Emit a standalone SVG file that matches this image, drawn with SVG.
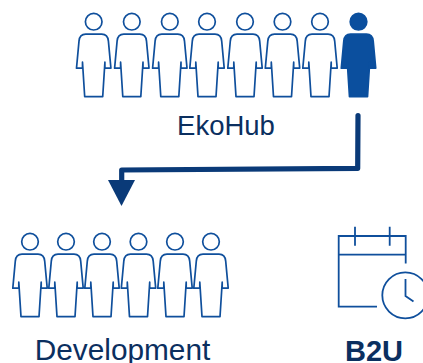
<svg xmlns="http://www.w3.org/2000/svg" width="423" height="363" viewBox="0 0 423 363">
<style>
.p{fill:#fff;stroke:#0f4f9c;stroke-width:1.7;stroke-linejoin:round}
.f{fill:#0b4f9e;stroke:#0b4f9e;stroke-width:1.7;stroke-linejoin:round}
.t{font-family:"Liberation Sans",Arial,sans-serif;fill:#0b2f5f;text-anchor:middle}
.l{fill:none;stroke:#0f4f9c;stroke-width:1.8}
</style>
<defs>
<g id="person">
<circle cx="0" cy="0" r="8.300"/>
<path d="M-8 12.500H8C12 12.500 14.300 15 14.700 19.500L17.200 46.500H11.200V40.500L9 75H-9L-11.200 40.500V46.500H-17.200L-14.700 19.500C-14.300 15 -12 12.500 -8 12.500Z"/>
</g>
</defs>
<g id="connectors">
<path d="M358 115.500L357.700 168.300L121.700 170V181" fill="none" stroke="#0a3a78" stroke-width="5.200" stroke-linecap="round" stroke-linejoin="round"/>
<polygon points="108,180 135,180 121.500,206" fill="#0a3a78"/>
</g>
<g id="ekohub">
<use href="#person" class="p" x="93.700" y="21.700"/>
<use href="#person" class="p" x="131.800" y="21.700"/>
<use href="#person" class="p" x="169.800" y="21.700"/>
<use href="#person" class="p" x="207" y="21.700"/>
<use href="#person" class="p" x="245" y="21.700"/>
<use href="#person" class="p" x="282.500" y="21.700"/>
<use href="#person" class="p" x="320" y="21.700"/>
<use href="#person" class="f" x="358.500" y="21.700"/>
<text class="t" x="226" y="135" font-size="27.500">EkoHub</text>
</g>
<g id="development">
<use href="#person" class="p" x="30" y="241.700"/>
<use href="#person" class="p" x="66" y="241.700"/>
<use href="#person" class="p" x="102" y="241.700"/>
<use href="#person" class="p" x="138.500" y="241.700"/>
<use href="#person" class="p" x="175" y="241.700"/>
<use href="#person" class="p" x="211" y="241.700"/>
<text class="t" x="122.500" y="359.500" font-size="29.800">Development</text>
</g>
<g id="b2u">
<path class="l" d="M377 306.700H338.700V236H405.700V263.500M338.700 254.700H405.700M355 226.700V245.700M389.700 226.700V245.700M405.500 279V296L413.500 301.500"/>
<circle class="l" cx="405.300" cy="295.300" r="23"/>
<text class="t" x="374" y="360.500" font-size="29" font-weight="bold">B2U</text>
</g>
</svg>
